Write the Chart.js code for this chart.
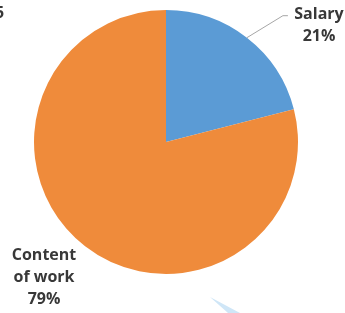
<!DOCTYPE html>
<html>
<head>
<meta charset="utf-8">
<script src="https://cdn.jsdelivr.net/npm/chart.js@4.4.0/dist/chart.umd.min.js"></script>
<style>
  html, body { margin: 0; padding: 0; background: #fff; }
  #wrap { width: 345px; height: 313px; position: relative; }
</style>
</head>
<body>
<div id="wrap"><canvas id="myChart"></canvas></div>
<script>
// chart data
const categories = ["Salary", "Content of work"];
const values = [21, 79];
const labelLines = [["Salary", "21%"], ["Content", "of work", "79%"]];
const colors = ["#5B9BD5", "#EF8B3B"];

// draws the data labels, the leader line and the little bits of the page around the chart
const labelPlugin = {
  id: "pieLabels",
  afterDatasetsDraw(chart) {
    const ctx = chart.ctx;
    const arcs = chart.getDatasetMeta(0).data;
    ctx.save();
    ctx.font = "bold 16px 'Open Sans', sans-serif";
    ctx.fillStyle = "#383838";
    ctx.textAlign = "center";
    ctx.textBaseline = "middle";

    // salary: leader line from the middle of the slice edge
    const a = arcs[0];
    const mid = (a.startAngle + a.endAngle) / 2;
    const sx = a.x + Math.cos(mid) * a.outerRadius;
    const sy = a.y + Math.sin(mid) * a.outerRadius;
    ctx.strokeStyle = "#a6a6a6";
    ctx.lineWidth = 1;
    ctx.beginPath();
    ctx.moveTo(sx, sy);
    ctx.lineTo(sx + 36, sy - 22);
    ctx.lineTo(sx + 41, sy - 22);
    ctx.stroke();
    labelLines[0].forEach((t, i) => ctx.fillText(t, 319, 14 + i * 22));

    // content of work
    labelLines[1].forEach((t, i) => ctx.fillText(t, 44, 255 + i * 22));

    // cut-off figure number in the top left corner
    ctx.textAlign = "left";
    ctx.fillText("5", -5, 13);

    // faint arrow tip at the bottom of the page
    ctx.fillStyle = "#cfe6f7";
    ctx.beginPath();
    ctx.moveTo(210, 297);
    ctx.lineTo(240, 313);
    ctx.lineTo(228, 313);
    ctx.closePath();
    ctx.fill();
    ctx.restore();
  }
};

const canvas = document.getElementById("myChart");
const ctx = canvas.getContext("2d");

const myChart = new Chart(ctx, {
  type: "pie",
  data: {
    labels: categories,
    datasets: [
      {
        data: values,
        backgroundColor: colors,
        borderWidth: 0,
      },
    ],
  },
  options: {
    responsive: true,
    maintainAspectRatio: false,
    animation: false,
    layout: {
      padding: { left: 34, right: 47, top: 10, bottom: 39 },
    },
    plugins: {
      legend: { display: false },
      tooltip: { enabled: false },
    },
  },
  plugins: [labelPlugin],
});
</script>
</body>
</html>
